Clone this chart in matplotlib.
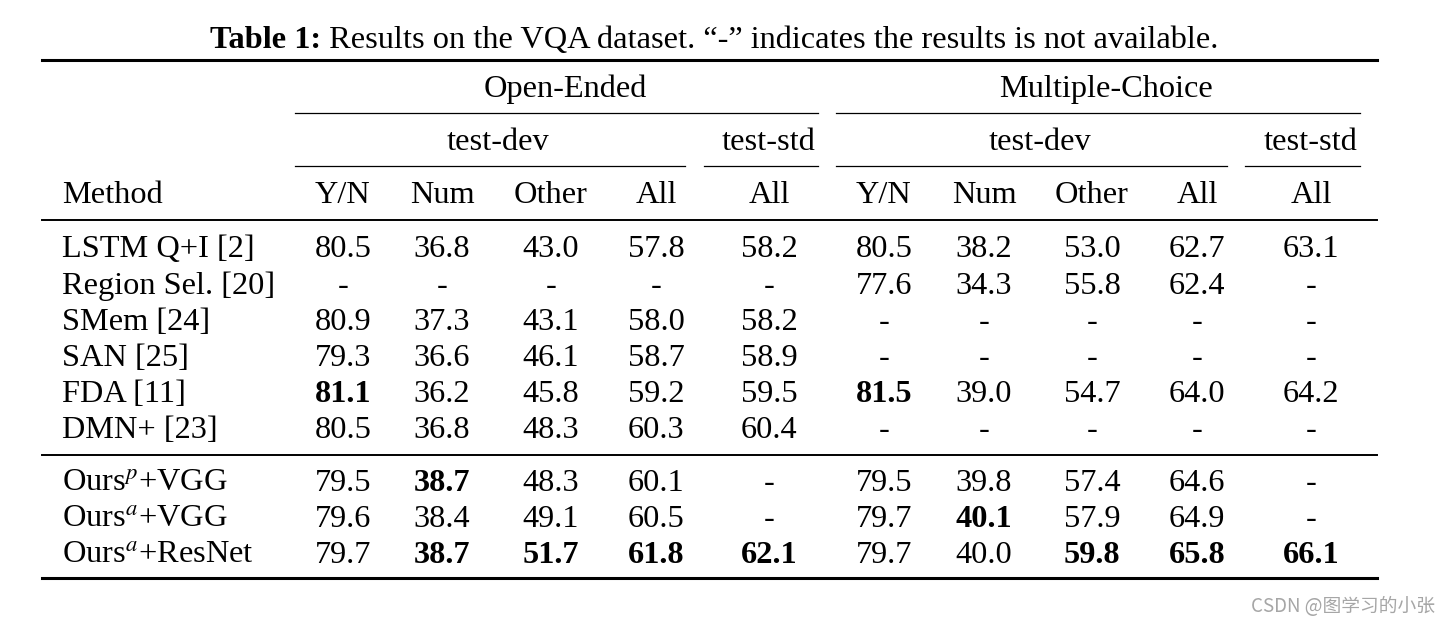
import matplotlib.pyplot as plt

plt.rcParams['font.family'] = ['Liberation Serif', 'DejaVu Serif']
plt.rcParams['mathtext.fontset'] = 'stix'

# ---------------- table data ----------------
methods = ['LSTM Q+I [2]', 'Region Sel. [20]', 'SMem [24]', 'SAN [25]', 'FDA [11]',
           'DMN+ [23]', 'Ours$^{p}$+VGG', 'Ours$^{a}$+VGG', 'Ours$^{a}$+ResNet']
col_names = ['Y/N', 'Num', 'Other', 'All', 'All', 'Y/N', 'Num', 'Other', 'All', 'All']

# Open-Ended: test-dev Y/N, Num, Other, All, test-std All
# Multiple-Choice: test-dev Y/N, Num, Other, All, test-std All
values = [
    [80.5, 36.8, 43.0, 57.8, 58.2, 80.5, 38.2, 53.0, 62.7, 63.1],
    [None, None, None, None, None, 77.6, 34.3, 55.8, 62.4, None],
    [80.9, 37.3, 43.1, 58.0, 58.2, None, None, None, None, None],
    [79.3, 36.6, 46.1, 58.7, 58.9, None, None, None, None, None],
    [81.1, 36.2, 45.8, 59.2, 59.5, 81.5, 39.0, 54.7, 64.0, 64.2],
    [80.5, 36.8, 48.3, 60.3, 60.4, None, None, None, None, None],
    [79.5, 38.7, 48.3, 60.1, None, 79.5, 39.8, 57.4, 64.6, None],
    [79.6, 38.4, 49.1, 60.5, None, 79.7, 40.1, 57.9, 64.9, None],
    [79.7, 38.7, 51.7, 61.8, 62.1, 79.7, 40.0, 59.8, 65.8, 66.1],
]
bold = [
    [0, 0, 0, 0, 0, 0, 0, 0, 0, 0],
    [0, 0, 0, 0, 0, 0, 0, 0, 0, 0],
    [0, 0, 0, 0, 0, 0, 0, 0, 0, 0],
    [0, 0, 0, 0, 0, 0, 0, 0, 0, 0],
    [1, 0, 0, 0, 0, 1, 0, 0, 0, 0],
    [0, 0, 0, 0, 0, 0, 0, 0, 0, 0],
    [0, 1, 0, 0, 0, 0, 0, 0, 0, 0],
    [0, 0, 0, 0, 0, 0, 1, 0, 0, 0],
    [0, 1, 1, 1, 1, 0, 0, 1, 1, 1],
]

# ---------------- layout (pixel coords, baselines) ----------------
col_x = [343, 442, 551, 656, 769, 884, 984, 1092, 1197, 1311]
row_base = [257, 294, 330, 366, 402, 438, 491, 527, 563]
fs = 23.3

fig = plt.figure(figsize=(14.5, 6.25), dpi=100)
ax = fig.add_axes([0, 0, 1, 1])
ax.set_xlim(0, 1450)
ax.set_ylim(625, 0)
ax.axis('off')

# title
t1 = ax.text(210, 48, 'Table 1:', fontsize=fs, fontweight='bold', ha='left', va='baseline')
ax.annotate(' Results on the VQA dataset. \u201c-\u201d indicates the results is not available.',
            xy=(1, 0), xycoords=t1, fontsize=fs, ha='left', va='bottom')

# rules
ax.plot([42, 1377], [60, 60], color='black', lw=2.2)
ax.plot([42, 1377], [220, 220], color='black', lw=1.4)
ax.plot([42, 1377], [455, 455], color='black', lw=1.4)
ax.plot([42, 1377], [578, 578], color='black', lw=2.2)
for x0, x1, y in [(295, 818, 113), (836, 1360, 113),
                  (295, 685, 166), (704, 818, 166),
                  (836, 1227, 166), (1245, 1360, 166)]:
    ax.plot([x0, x1], [y, y], color='black', lw=0.9)

# header
ax.text(565, 97, 'Open-Ended', fontsize=fs, ha='center', va='baseline')
ax.text(1106, 97, 'Multiple-Choice', fontsize=fs, ha='center', va='baseline')
ax.text(498, 150, 'test-dev', fontsize=fs, ha='center', va='baseline')
ax.text(769, 150, 'test-std', fontsize=fs, ha='center', va='baseline')
ax.text(1040, 150, 'test-dev', fontsize=fs, ha='center', va='baseline')
ax.text(1311, 150, 'test-std', fontsize=fs, ha='center', va='baseline')
ax.text(62, 203, 'Method', fontsize=fs, ha='left', va='baseline')
for x, name in zip(col_x, col_names):
    ax.text(x, 203, name, fontsize=fs, ha='center', va='baseline')

# body
for y, m, row, brow in zip(row_base, methods, values, bold):
    ax.text(62, y, m, fontsize=fs, ha='left', va='baseline')
    for x, v, b in zip(col_x, row, brow):
        s = '-' if v is None else f'{v:.1f}'
        ax.text(x, y, s, fontsize=fs, ha='center', va='baseline',
                fontweight='bold' if b else 'normal')

# watermark
ax.text(1435, 606, 'CSDN @图学习的小张', fontsize=13.5, color='#a6a6a6', ha='right', va='center',
        family=['Noto Sans CJK SC', 'DejaVu Sans'])

fig.savefig('out.png', dpi=100)
